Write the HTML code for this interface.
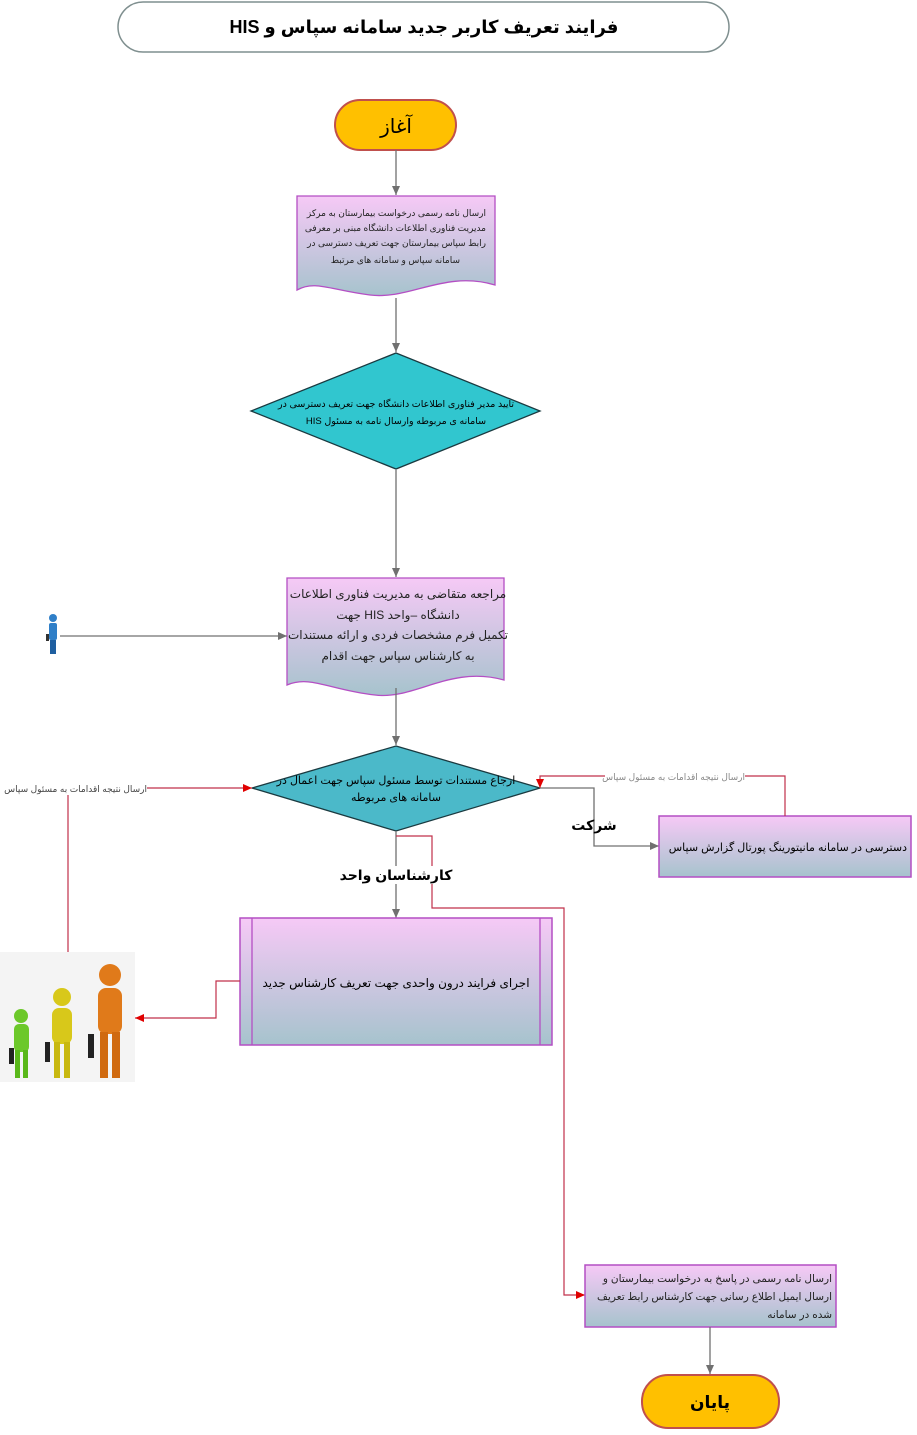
<!DOCTYPE html>
<html><head><meta charset="utf-8"><style>
html,body{margin:0;padding:0;background:#fff;}
svg text{font-family:"Liberation Sans","DejaVu Sans",sans-serif;}
</style></head><body>
<svg width="917" height="1430" viewBox="0 0 917 1430" xmlns="http://www.w3.org/2000/svg">
<defs>
<linearGradient id="g" x1="0" y1="0" x2="0" y2="1"><stop offset="0" stop-color="#f6c9f6"/><stop offset="1" stop-color="#a6c3cd"/></linearGradient>
<marker id="ag" markerWidth="10" markerHeight="10" refX="9" refY="5" orient="auto" markerUnits="userSpaceOnUse"><path d="M0,1 L9,5 L0,9 z" fill="#707070"/></marker>
<marker id="ar" markerWidth="10" markerHeight="10" refX="9" refY="5" orient="auto" markerUnits="userSpaceOnUse"><path d="M0,1 L9,5 L0,9 z" fill="#e00000"/></marker>
</defs>
<rect x="118" y="2" width="611" height="50" rx="25" fill="#fff" stroke="#7f8f8f" stroke-width="1.5"/>
<text x="424" y="33" text-anchor="middle" font-size="18" font-weight="bold" direction="rtl">فرایند تعریف کاربر جدید سامانه سپاس و HIS</text>

<rect x="335" y="100" width="121" height="50" rx="25" fill="#ffc000" stroke="#c0504d" stroke-width="2"/>
<text x="396" y="133" text-anchor="middle" font-size="20">آغاز</text>
<line x1="396" y1="150" x2="396" y2="195" stroke="#707070" stroke-width="1.3" marker-end="url(#ag)"/>

<path d="M297,196 H495 V285 C445,270 410,300 370,295 C330,290 315,280 297,290 Z" fill="url(#g)" stroke="#b44fc4" stroke-width="1.3"/>
<g font-size="9" text-anchor="start" direction="rtl" fill="#222">
<text x="486" y="216">ارسال نامه رسمی  درخواست  بیمارستان به مرکز</text>
<text x="486" y="231">مدیریت فناوری اطلاعات دانشگاه  مبنی بر معرفی</text>
<text x="486" y="246">رابط سپاس بیمارستان جهت تعریف دسترسی در</text>
<text x="460" y="263">سامانه سپاس و سامانه های مرتبط</text>
</g>
<line x1="396" y1="298" x2="396" y2="352" stroke="#707070" stroke-width="1.3" marker-end="url(#ag)"/>

<polygon points="396,353 540,411 396,469 251,411" fill="#31c6cf" stroke="#1a3a40" stroke-width="1.3"/>
<text x="396" y="407" text-anchor="middle" font-size="9.5" direction="rtl">تایید مدیر فناوری اطلاعات  دانشگاه جهت تعریف دسترسی در</text>
<text x="396" y="424" text-anchor="middle" font-size="9.5" direction="rtl">سامانه ی مربوطه  وارسال نامه به مسئول HIS</text>
<line x1="396" y1="470" x2="396" y2="577" stroke="#707070" stroke-width="1.3" marker-end="url(#ag)"/>

<path d="M287,578 H504 V680 C450,665 415,700 375,695 C330,690 310,675 287,685 Z" fill="url(#g)" stroke="#b44fc4" stroke-width="1.3"/>
<g font-size="12" text-anchor="middle" direction="rtl" fill="#222">
<text x="398" y="598">مراجعه متقاضی به  مدیریت فناوری اطلاعات</text>
<text x="398" y="619">دانشگاه –واحد  HIS جهت</text>
<text x="398" y="639">تکمیل فرم مشخصات فردی  و ارائه  مستندات</text>
<text x="398" y="660">به کارشناس سپاس جهت اقدام</text>
</g>
<g>
<circle cx="53" cy="618" r="4" fill="#2f7fc8"/>
<rect x="49" y="623" width="8" height="17" rx="2" fill="#2f7fc8"/>
<rect x="50" y="640" width="6" height="14" fill="#1f5fa0"/>
<rect x="46" y="634" width="3" height="7" fill="#333"/>
</g>
<line x1="60" y1="636" x2="287" y2="636" stroke="#707070" stroke-width="1.3" marker-end="url(#ag)"/>
<line x1="396" y1="688" x2="396" y2="745" stroke="#707070" stroke-width="1.3" marker-end="url(#ag)"/>

<polygon points="396,746 540,788 396,831 252,788" fill="#4bb9c9" stroke="#1a3a40" stroke-width="1.3"/>
<text x="396" y="784" text-anchor="middle" font-size="11" direction="rtl">ارجاع مستندات توسط مسئول سپاس جهت اعمال در</text>
<text x="396" y="801" text-anchor="middle" font-size="11" direction="rtl">سامانه های مربوطه</text>

<polyline points="540,788 594,788 594,846 659,846" fill="none" stroke="#707070" stroke-width="1.3" marker-end="url(#ag)"/>
<text x="594" y="830" text-anchor="middle" font-size="14" font-weight="bold">شرکت</text>
<rect x="659" y="816" width="252" height="61" fill="url(#g)" stroke="#b44fc4" stroke-width="1.5"/>
<text x="907" y="851" text-anchor="start" font-size="11" direction="rtl">دسترسی در سامانه مانیتورینگ پورتال گزارش سپاس</text>
<polyline points="785,816 785,776 540,776 540,788" fill="none" stroke="#c0304a" stroke-width="1.2" marker-end="url(#ar)"/>
<rect x="605" y="770" width="140" height="12" fill="#fff"/>
<text x="745" y="780" text-anchor="start" font-size="9" fill="#888" direction="rtl">ارسال نتیجه اقدامات به مسئول سپاس</text>

<line x1="396" y1="831" x2="396" y2="918" stroke="#707070" stroke-width="1.3" marker-end="url(#ag)"/>
<polyline points="396,836 432,836 432,908 564,908 564,1295 585,1295" fill="none" stroke="#c0304a" stroke-width="1.2" marker-end="url(#ar)"/>
<rect x="350" y="866" width="92" height="18" fill="#fff"/>
<text x="396" y="880" text-anchor="middle" font-size="14" font-weight="bold">کارشناسان واحد</text>

<rect x="240" y="918" width="312" height="127" fill="url(#g)" stroke="#b44fc4" stroke-width="1.5"/>
<line x1="252" y1="918" x2="252" y2="1045" stroke="#b44fc4" stroke-width="1.3"/>
<line x1="540" y1="918" x2="540" y2="1045" stroke="#b44fc4" stroke-width="1.3"/>
<text x="396" y="987" text-anchor="middle" font-size="12" direction="rtl">اجرای فرایند درون   واحدی جهت تعریف کارشناس جدید</text>
<polyline points="240,981 216,981 216,1018 135,1018" fill="none" stroke="#c0304a" stroke-width="1.2" marker-end="url(#ar)"/>

<g>
<rect x="0" y="952" width="135" height="130" fill="#f4f4f4"/>
<circle cx="110" cy="975" r="11" fill="#e07a1a"/>
<rect x="98" y="988" width="24" height="46" rx="8" fill="#e07a1a"/>
<rect x="100" y="1032" width="8" height="46" fill="#d06a10"/>
<rect x="112" y="1032" width="8" height="46" fill="#d06a10"/>
<rect x="88" y="1034" width="6" height="24" fill="#222"/>
<circle cx="62" cy="997" r="9" fill="#d8c81a"/>
<rect x="52" y="1008" width="20" height="36" rx="7" fill="#d8c81a"/>
<rect x="54" y="1042" width="6" height="36" fill="#c8b810"/>
<rect x="64" y="1042" width="6" height="36" fill="#c8b810"/>
<rect x="45" y="1042" width="5" height="20" fill="#222"/>
<circle cx="21" cy="1016" r="7" fill="#6cc82a"/>
<rect x="14" y="1024" width="15" height="28" rx="5" fill="#6cc82a"/>
<rect x="15" y="1050" width="5" height="28" fill="#5ab81a"/>
<rect x="23" y="1050" width="5" height="28" fill="#5ab81a"/>
<rect x="9" y="1048" width="5" height="16" fill="#222"/>
</g>
<line x1="68" y1="952" x2="68" y2="795" stroke="#c0304a" stroke-width="1.2"/>
<line x1="147" y1="788" x2="252" y2="788" stroke="#c0304a" stroke-width="1.2" marker-end="url(#ar)"/>
<text x="147" y="792" text-anchor="start" font-size="9" fill="#444" direction="rtl">ارسال نتیجه اقدامات به مسئول سپاس</text>

<rect x="585" y="1265" width="251" height="62" fill="url(#g)" stroke="#b44fc4" stroke-width="1.5"/>
<g font-size="10.5" text-anchor="start" direction="rtl" fill="#222">
<text x="832" y="1282">ارسال نامه رسمی در پاسخ به درخواست بیمارستان و</text>
<text x="832" y="1300">ارسال ایمیل اطلاع رسانی جهت کارشناس رابط تعریف</text>
<text x="832" y="1318">شده در سامانه</text>
</g>
<line x1="710" y1="1327" x2="710" y2="1374" stroke="#707070" stroke-width="1.3" marker-end="url(#ag)"/>
<rect x="642" y="1375" width="137" height="53" rx="26" fill="#ffc000" stroke="#c0504d" stroke-width="2"/>
<text x="710" y="1408" text-anchor="middle" font-size="17" font-weight="bold">پایان</text>
</svg>
</body></html>
